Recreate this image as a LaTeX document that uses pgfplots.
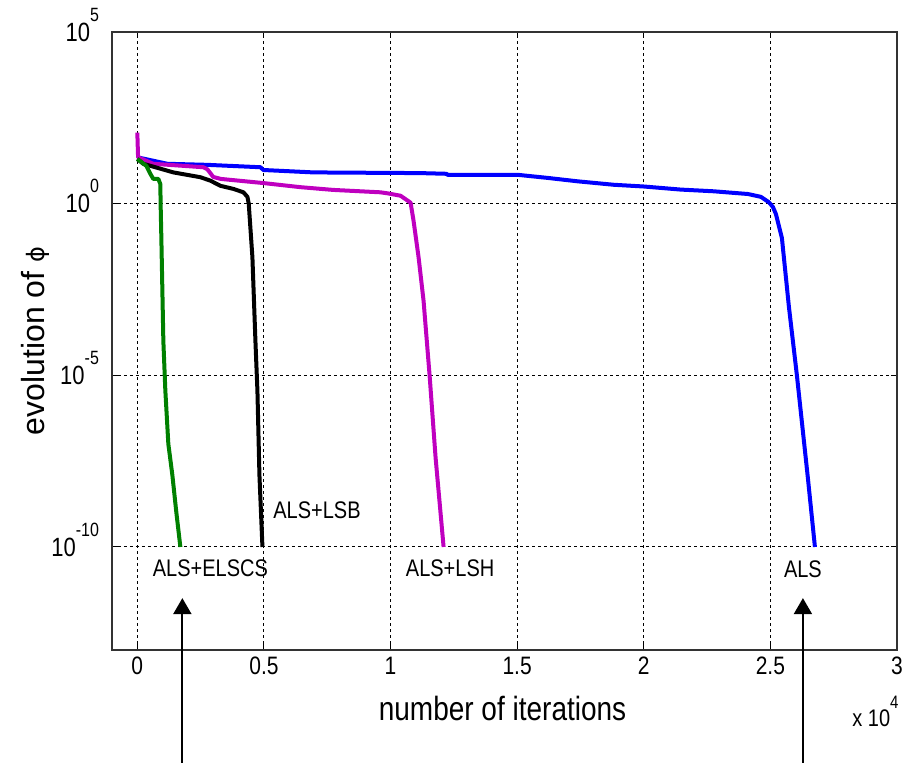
\documentclass[border=0pt]{standalone}
\usepackage{pgfplots}
\pgfplotsset{compat=1.18}
\usepackage{graphicx}
\usepackage{fontspec}
\setmainfont{Liberation Sans}
\newfontfamily\dejavu{DejaVu Sans}
\usetikzlibrary{arrows.meta}
\definecolor{mblue}{RGB}{0,0,255}
\definecolor{mmag}{RGB}{191,0,191}
\definecolor{mgreen}{RGB}{0,128,0}
\newcommand\vs[1]{\scalebox{1}[1.2]{#1}}
\newcommand\tp[1]{\vs{10\raisebox{0.75em}[0pt][0pt]{\fontsize{8pt}{8pt}\selectfont #1}}}
\begin{document}
\begin{tikzpicture}
\useasboundingbox (-56pt,-56.5pt) rectangle (400pt,325pt);
\begin{axis}[
  scale only axis, width=392.5pt, height=309pt,
  xmin=-1000, xmax=30000,
  ymode=log, ymin=1e-13, ymax=1e5,
  xtick={0,5000,10000,15000,20000,25000,30000},
  xticklabels={\vs{0},\vs{0.5},\vs{1},\vs{1.5},\vs{2},\vs{2.5},\vs{3}},
  ytick={1e-10,1e-5,1,1e5},
  yticklabels={\tp{-10},\tp{-5},\tp{0},\tp{5}},
  yminorticks=false, xminorticks=false,
  scaled x ticks=false,
  grid=major,
  major grid style={black, line width=0.5pt, dash pattern=on 1.5pt off 1.5pt},
  axis line style={black!80, line width=0.6pt},
  tick align=inside, major tick length=3pt,
  tick style={black, line width=0.5pt},
  xticklabel style={font=\fontsize{10.5pt}{12pt}\selectfont},
  yticklabel style={font=\fontsize{11pt}{12pt}\selectfont, xshift=-3pt},
  xlabel={\vs{number of iterations}},
  xlabel style={font=\fontsize{14pt}{16pt}\selectfont, at={(axis description cs:0.4975,-0.094)}, anchor=center},
  ylabel={evolution of {\dejavu\fontsize{12pt}{12pt}\selectfont ϕ}},
  ylabel style={font=\fontsize{16pt}{18pt}\selectfont, at={(axis description cs:-0.098,0.5)}, anchor=center},
  clip=false,
  every axis plot/.append style={line width=2pt, no markers, line join=round},
]
% ALS (blue)
\addplot[mblue] coordinates {
(0,22.4) (1186,14.5) (2767,13.5) (4862,11.5) (4980,9.55) (6957,8.13)
(11186,7.76) (12213,7.41) (12253,6.92) (15020,6.92) (16206,5.62)
(17391,4.47) (18814,3.55) (20000,3.16) (21462,2.57) (22767,2.29)
(24111,1.91) (24625,1.58) (24941,1.10) (25100,0.80) (25217,0.50) (25455,0.1)
(25731,1e-3) (26047,1e-5) (26482,1e-8) (26759,1e-10)
};
% ALS+LSH (magenta)
\addplot[mmag] coordinates {
(0,117.5) (30,22.4) (632,14.5) (2609,11.5) (2767,10) (3000,6.0) (3300,5.25)
(4980,3.98) (6443,3.02) (7747,2.51) (9605,2.14) (9881,2.0) (10395,1.70)
(10791,1.07) (10909,0.316) (11107,0.0275) (11304,1.48e-3) (11542,1e-5)
(11779,3.98e-8) (12095,1e-10)
};
% ALS+LSB (black)
\addplot[black] coordinates {
(0,20.0) (237,14.5) (1186,9.12) (1423,8.13) (2490,5.89) (2885,4.68)
(3281,3.31) (3794,2.69) (4190,2.14) (4348,1.58) (4400,1.0) (4545,0.0275)
(4664,1e-4) (4743,3.55e-6) (4822,1.26e-8) (4941,1e-10)
};
% ALS+ELSCS (green)
\addplot[mgreen] coordinates {
(0,20.0) (356,12.6) (514,7.41) (632,5.25) (830,5.25) (909,3.72)
(920,1.0) (949,0.1) (1028,1e-4) (1107,3.55e-6) (1225,1e-7)
(1383,1.26e-8) (1542,1e-9) (1700,1e-10)
};
\node[font=\fontsize{10pt}{12pt}\selectfont] at (axis cs:7095,1.2e-9) {\vs{ALS+LSB}};
\node[font=\fontsize{10pt}{12pt}\selectfont] at (axis cs:2885,2.34e-11) {\vs{ALS+ELSCS}};
\node[font=\fontsize{10pt}{12pt}\selectfont] at (axis cs:12352,2.45e-11) {\vs{ALS+LSH}};
\node[font=\fontsize{10pt}{12pt}\selectfont] at (axis cs:26285,2.29e-11) {\vs{ALS}};
\draw[line width=1pt, -{Triangle[length=8pt,width=9pt]}] (axis cs:1779,4.7e-17) -- (axis cs:1779,3.24e-12);
\draw[line width=1pt, -{Triangle[length=8pt,width=9pt]}] (axis cs:26285,4.7e-17) -- (axis cs:26285,3.24e-12);
\node[anchor=base west, inner sep=0pt, font=\fontsize{10pt}{12pt}\selectfont] at (rel axis cs:0.9427,-0.1246) {\vs{x 10\raisebox{0.78em}{\fontsize{7.5pt}{7.5pt}\selectfont 4}}};
\end{axis}
\end{tikzpicture}
\end{document}
